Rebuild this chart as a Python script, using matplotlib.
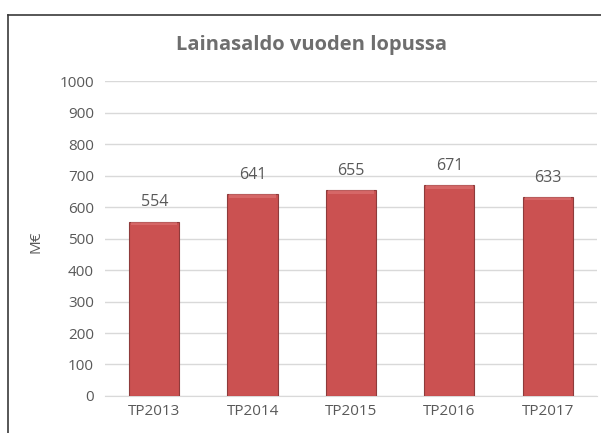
import matplotlib.pyplot as plt
from matplotlib.lines import Line2D

categories = ["TP2013", "TP2014", "TP2015", "TP2016", "TP2017"]
values = [554, 641, 655, 671, 633]
yticks = [0, 100, 200, 300, 400, 500, 600, 700, 800, 900, 1000]

plt.rcParams["font.family"] = ["Open Sans", "DejaVu Sans"]
text_color = "#595959"

fig = plt.figure(figsize=(6.01, 4.33), dpi=100)
ax = fig.add_axes([0.1747, 0.0855, 0.8186, 0.727])

x = list(range(len(categories)))
ax.bar(x, values, width=0.51, color="#CB5151", edgecolor="#8E3B3B", linewidth=0.8, zorder=3)
# lighter top bevel
ax.bar(x, [12] * len(values), bottom=[v - 12 for v in values], width=0.47,
       color="#E07A7A", linewidth=0, zorder=4, alpha=0.55)

for xi, v in zip(x, values):
    ax.annotate(str(v), (xi, v), xytext=(0, 8), textcoords="offset points",
                ha="center", va="bottom", fontsize=11.5, color=text_color)

ax.set_xlim(-0.5, len(categories) - 0.5)
ax.set_ylim(0, 1000)
ax.set_yticks(yticks)
ax.set_xticks(x)
ax.set_xticklabels(categories)
ax.tick_params(axis="both", length=0, labelsize=11, labelcolor=text_color)
ax.tick_params(axis="y", pad=8)
ax.tick_params(axis="x", pad=6)
ax.grid(axis="y", color="#D9D9D9", linewidth=1, zorder=0)
for side in ["top", "right", "left"]:
    ax.spines[side].set_visible(False)
ax.spines["bottom"].set_color("#D9D9D9")

ax.set_ylabel("M€", fontsize=11, color=text_color)
ax.yaxis.set_label_coords(-0.125, 0.49)

fig.text(0.518, 0.897, "Lainasaldo vuoden lopussa", ha="center", va="center",
         fontsize=14.5, fontweight="bold", color="#6E6E6E")

# chart frame (top and left visible)
fig.add_artist(Line2D([0.014, 0.014], [0.0, 0.965], transform=fig.transFigure, color="#3A3A3A", linewidth=1.2))
fig.add_artist(Line2D([0.014, 1.0], [0.965, 0.965], transform=fig.transFigure, color="#3A3A3A", linewidth=1.2))

fig.savefig("out.png", dpi=100)
plt.close(fig)
